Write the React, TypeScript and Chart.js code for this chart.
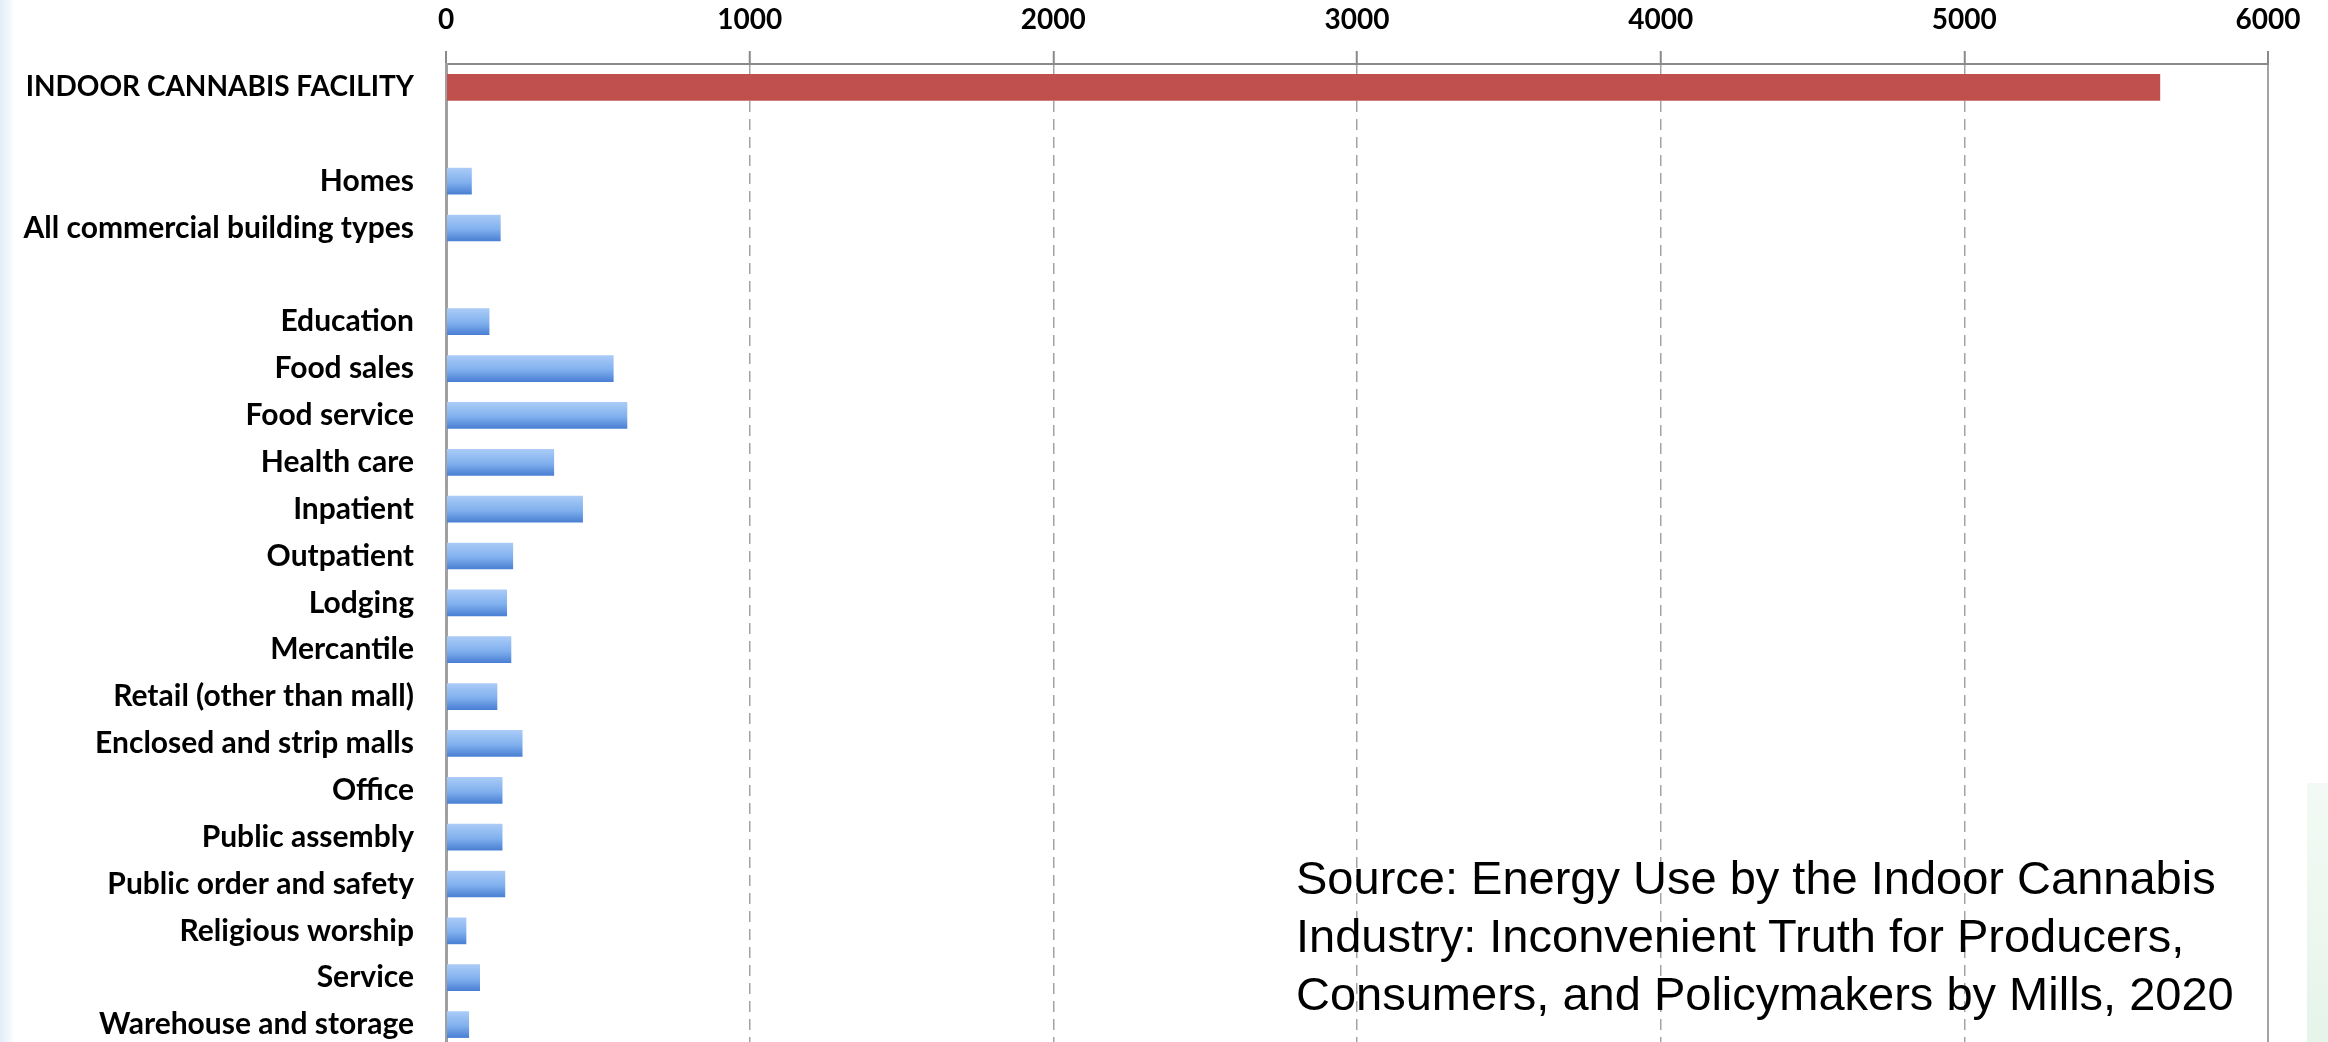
import React, { useEffect, useRef } from 'react';
import { Chart, registerables } from 'chart.js';

Chart.register(...registerables);

const categories = [
  'INDOOR CANNABIS FACILITY',
  '',
  'Homes',
  'All commercial building types',
  '',
  'Education',
  'Food sales',
  'Food service',
  'Health care',
  'Inpatient',
  'Outpatient',
  'Lodging',
  'Mercantile',
  'Retail (other than mall)',
  'Enclosed and strip malls',
  'Office',
  'Public assembly',
  'Public order and safety',
  'Religious worship',
  'Service',
  'Warehouse and storage',
];

const values: (number | null)[] = [
  5645, null, 85, 180, null, 143, 552, 597, 356, 451, 221, 201, 215, 169, 252, 186, 186, 195, 67, 112, 76,
];

const highlighted = [0];

const xTicks = [0, 1000, 2000, 3000, 4000, 5000, 6000];

const sourceLines = [
  'Source: Energy Use by the Indoor Cannabis',
  'Industry: Inconvenient Truth for Producers,',
  'Consumers, and Policymakers by Mills, 2020',
];

export default function App() {
  const ref = useRef<HTMLCanvasElement | null>(null);

  useEffect(() => {
    document.body.style.margin = '0';
    document.body.style.overflow = 'hidden';
    const canvas = ref.current;
    if (!canvas) return;

    const chart = new Chart(canvas, {
      type: 'bar',
      data: {
        labels: categories,
        datasets: [
          {
            data: values,
            backgroundColor: (c: any) => {
              const i = c.dataIndex;
              if (highlighted.includes(i)) return '#c0504d';
              const ch = c.chart;
              const ys = ch.scales && ch.scales.y;
              if (!ys) return '#6a9ee6';
              const yc = ys.getPixelForValue(i);
              const g = ch.ctx.createLinearGradient(0, yc - 13, 0, yc + 13);
              g.addColorStop(0, '#aacbf7');
              g.addColorStop(0.55, '#80b0ee');
              g.addColorStop(1, '#4a80d4');
              return g;
            },
            borderWidth: 0,
            barPercentage: 0.57,
            categoryPercentage: 1,
          },
        ],
      },
      options: {
        indexAxis: 'y',
        animation: false,
        responsive: false,
        maintainAspectRatio: false,
        layout: { padding: { left: 0, right: 60, top: 0, bottom: 0 } },
        plugins: {
          legend: { display: false },
          tooltip: { enabled: false },
        },
        scales: {
          x: {
            type: 'linear',
            position: 'top',
            min: 0,
            max: 6000,
            afterBuildTicks: (s: any) => {
              s.ticks = xTicks.map((v) => ({ value: v }));
            },
            afterFit: (s: any) => {
              s.height = 64;
            },
            ticks: {
              color: '#000',
              padding: 14,
              font: { family: 'Lato', weight: 'bold', size: 28 },
              callback: (v: any) => String(v),
            },
            grid: {
              color: '#a3a3a3',
              lineWidth: (c: any) => (c.tick && (c.tick.value === 0 || c.tick.value === 6000) ? 2 : 1.5),
              tickLength: 13,
              tickColor: '#8a8a8a',
              tickWidth: 2,
            },
            border: {
              display: true,
              color: '#8a8a8a',
              width: 2,
              dash: (c: any) => (c.tick && (c.tick.value === 0 || c.tick.value === 6000) ? [] : [11, 7]),
            },
          },
          y: {
            type: 'category',
            afterFit: (s: any) => {
              s.width = 446;
              s.paddingTop = 0;
              s.paddingBottom = 0;
            },
            ticks: {
              autoSkip: false,
              color: '#000',
              padding: 32,
              font: (c: any) => ({
                family: 'Lato',
                weight: 'bold',
                size: c.index === 0 ? 28 : 30,
              }),
            },
            grid: {
              display: true,
              drawOnChartArea: false,
              drawTicks: false,
            },
            border: {
              display: true,
              color: '#a0a0a0',
              width: 3,
            },
          },
        },
      } as any,
    });

    return () => {
      chart.destroy();
    };
  }, []);

  return (
    <div
      style={{
        position: 'relative',
        width: 2328,
        height: 1042,
        overflow: 'hidden',
        background: '#ffffff',
      }}
    >
      <div
        style={{
          position: 'absolute',
          left: 0,
          top: 0,
          width: 14,
          height: 1042,
          background: 'linear-gradient(to right, #e2edf7, #f3f8fc 70%, #ffffff)',
        }}
      />
      <div
        style={{
          position: 'absolute',
          left: 2307,
          top: 783,
          width: 21,
          height: 259,
          background: 'linear-gradient(to bottom, #f3faf5, #e6f4ea)',
        }}
      />
      <canvas
        ref={ref}
        width={2328}
        height={1048}
        style={{ position: 'absolute', left: 0, top: 0, width: 2328, height: 1048 }}
      />
      <div
        style={{
          position: 'absolute',
          left: 1296,
          top: 849,
          fontFamily: '"Liberation Sans", Arial, sans-serif',
          fontSize: 47,
          lineHeight: '58px',
          color: '#000',
          whiteSpace: 'nowrap',
        }}
      >
        {sourceLines.map((l, i) => (
          <div key={i}>{l}</div>
        ))}
      </div>
    </div>
  );
}
